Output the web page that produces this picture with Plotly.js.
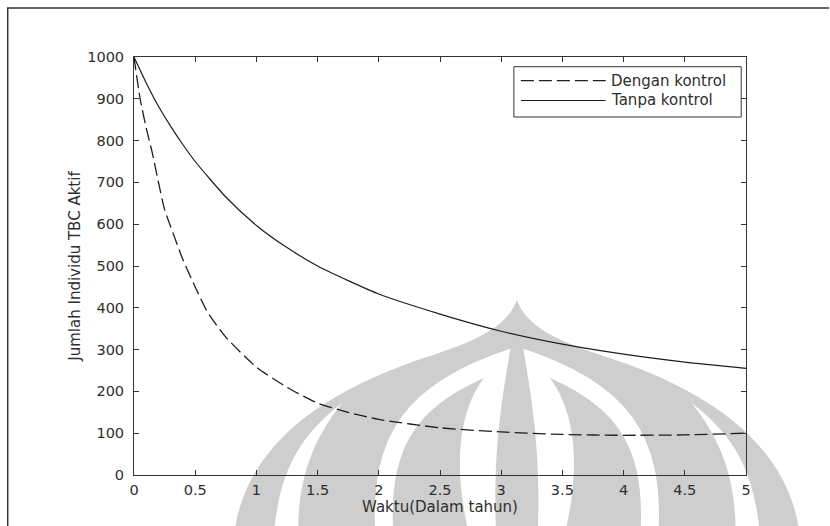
<!DOCTYPE html>
<html>
<head>
<meta charset="utf-8">
<script src="https://cdn.plot.ly/plotly-3.0.1.min.js"></script>
<style>html,body{margin:0;padding:0;background:#fff;}#chart{width:830px;height:526px;}</style>
</head>
<body>
<div id="chart"></div>
<script>
// Time (years)
var tDengan = [0, 0.05, 0.1, 0.15, 0.2, 0.25, 0.3, 0.4, 0.5, 0.6, 0.75, 1.0, 1.25, 1.5, 1.75, 2.0, 2.5, 3.0, 3.5, 4.0, 4.5, 5.0];
var yDengan = [1000, 900, 830, 770, 700, 635, 594, 515, 450, 390, 330, 258, 210, 172, 150, 133, 113, 103, 97, 95, 96, 100];
var tTanpa = [0, 0.1, 0.2, 0.3, 0.4, 0.5, 0.75, 1.0, 1.25, 1.5, 1.75, 2.0, 2.5, 3.0, 3.5, 4.0, 4.5, 5.0];
var yTanpa = [1000, 938, 882, 834, 790, 750, 665, 597, 544, 500, 465, 433, 385, 344, 313, 289, 270, 255];
var xTicks = [0, 0.5, 1, 1.5, 2, 2.5, 3, 3.5, 4, 4.5, 5];
var xTickText = ["0", "0.5", "1", "1.5", "2", "2.5", "3", "3.5", "4", "4.5", "5"];
var yTicks = [0, 100, 200, 300, 400, 500, 600, 700, 800, 900, 1000];
var seriesNames = ["Dengan kontrol", "Tanpa kontrol"];

var W = 830, H = 526, L = 133.5, R = 83.5, T = 57, B = 51;
var pw = W - L - R, ph = H - T - B;
function px(x) { return (x - L) / pw; }
function py(y) { return (H - B - y) / ph; }

var FONT = 'DejaVu Sans, Verdana, sans-serif';
var TXT = '#2e2e2e';
var LINE = '#1e1e1e';
var DASH = '13px,5px';

// watermark + outer frame (decoration)
var g = '#cecece';
var svg = '<svg xmlns="http://www.w3.org/2000/svg" width="830" height="526" viewBox="0 0 830 526">' +
  '<path d="M517,300 C508,325 480,340 430,356 C330,388 250,440 235,526 L799,526 C784,440 704,388 604,356 C554,340 526,325 517,300 Z" fill="' + g + '"/>' +
  '<path d="M274,530 C280,470 300,435 342,403 C312,440 298,480 298,530 Z" fill="#fff"/>' +
  '<path d="M760,530 C754,470 734,435 692,403 C722,440 736,480 736,530 Z" fill="#fff"/>' +
  '<path d="M384,530 C380,440 410,390 517,356 C624,390 654,440 650,530" fill="none" stroke="#fff" stroke-width="18"/>' +
  '<path d="M517,350 C460,380 450,450 468,530 L566,530 C584,450 574,380 517,350 Z" fill="#fff"/>' +
  '<path d="M517,300 C510,370 492,420 496,530 L538,530 C542,420 524,370 517,300 Z" fill="' + g + '"/>' +
  '<path d="M7,526 L7,8 L830,8" fill="none" stroke="#333" stroke-width="1.5"/>' +
  '</svg>';

var axisFont = {family: FONT, size: 14.5, color: TXT};
var data = [
  {x: tDengan, y: yDengan, type: 'scatter', mode: 'lines', name: seriesNames[0],
   line: {color: LINE, width: 1.3, dash: DASH, shape: 'spline', smoothing: 0.6}},
  {x: tTanpa, y: yTanpa, type: 'scatter', mode: 'lines', name: seriesNames[1],
   line: {color: LINE, width: 1.2, shape: 'spline', smoothing: 0.6}}
];

// legend drawn as a MATLAB-style box
var legTop = 66.7, legBot = 117, legL = 514, legR = 741.7;
var rowY = [80.7, 100.5];
var sampleL = 521, sampleR = 606, textX = 609;
var shapes = [
  {type: 'rect', xref: 'paper', yref: 'paper', x0: px(legL), x1: px(legR), y0: py(legBot), y1: py(legTop),
   line: {color: '#333', width: 1}, fillcolor: '#fff', layer: 'above'},
  {type: 'line', xref: 'paper', yref: 'paper', x0: px(sampleL), x1: px(sampleR), y0: py(rowY[0]), y1: py(rowY[0]),
   line: {color: LINE, width: 1.3, dash: DASH}, layer: 'above'},
  {type: 'line', xref: 'paper', yref: 'paper', x0: px(sampleL), x1: px(sampleR), y0: py(rowY[1]), y1: py(rowY[1]),
   line: {color: LINE, width: 1.2}, layer: 'above'}
];
var annotations = seriesNames.map(function (n, i) {
  return {text: n, xref: 'paper', yref: 'paper', x: px(textX), y: py(rowY[i]), xanchor: 'left', yanchor: 'middle',
    showarrow: false, font: {family: FONT, size: 15, color: TXT}};
});

var layout = {
  width: W, height: H,
  margin: {l: L, r: R, t: T, b: B, pad: 0},
  paper_bgcolor: '#fff', plot_bgcolor: 'rgba(0,0,0,0)',
  showlegend: false,
  shapes: shapes, annotations: annotations,
  xaxis: {range: [0, 5], tickvals: xTicks, ticktext: xTickText, ticks: 'inside', ticklen: 5,
    tickcolor: '#333', showline: true, linecolor: '#333', linewidth: 1, mirror: 'ticks',
    showgrid: false, zeroline: false, tickfont: axisFont, ticklabelstandoff: 2,
    title: {text: 'Waktu(Dalam tahun)', font: {family: FONT, size: 15, color: TXT}, standoff: 2}},
  yaxis: {range: [0, 1000], tickvals: yTicks, ticks: 'inside', ticklen: 5,
    tickcolor: '#333', showline: true, linecolor: '#333', linewidth: 1, mirror: 'ticks',
    showgrid: false, zeroline: false, tickfont: axisFont, ticklabelstandoff: 6,
    title: {text: 'Jumlah Individu TBC Aktif', font: {family: FONT, size: 15, color: TXT}, standoff: 2}},
  images: [{source: 'data:image/svg+xml;charset=utf-8,' + encodeURIComponent(svg),
    xref: 'paper', yref: 'paper', x: -L / pw, y: 1 + T / ph, sizex: W / pw, sizey: H / ph,
    xanchor: 'left', yanchor: 'top', sizing: 'stretch', layer: 'below'}]
};
Plotly.newPlot('chart', data, layout, {displayModeBar: false, staticPlot: true});
</script>
</body>
</html>
